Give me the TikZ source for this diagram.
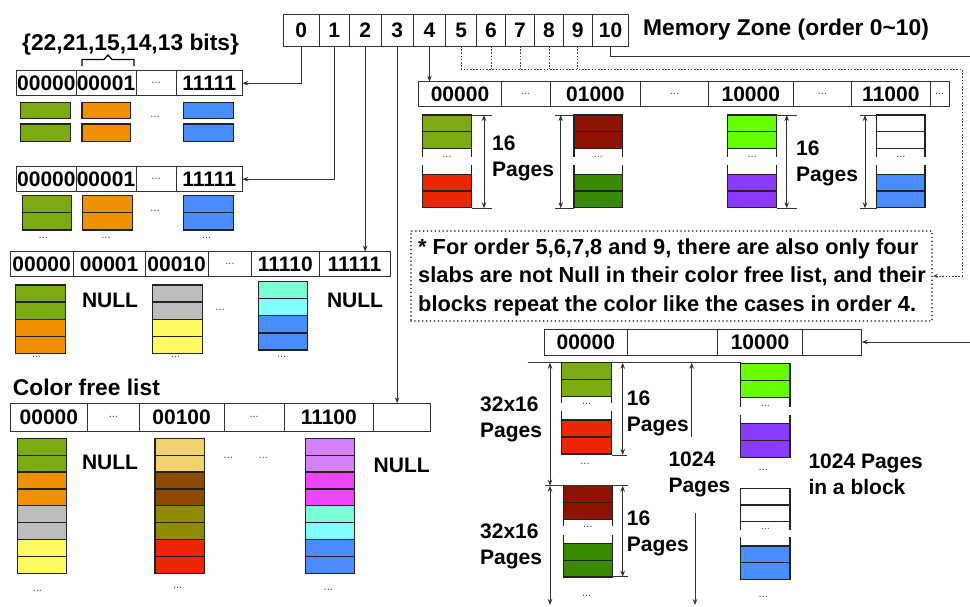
\documentclass[tikz,border=0pt]{standalone}
\usepackage{fontspec}
\setmainfont{Liberation Sans}
\usetikzlibrary{arrows.meta}
\definecolor{cgreen}{HTML}{7BAA12}
\definecolor{corange}{HTML}{EE9000}
\definecolor{cblue}{HTML}{4A8DFF}
\definecolor{cgray}{HTML}{BDBDBD}
\definecolor{cyellow}{HTML}{FCFC62}
\definecolor{caqua}{HTML}{7CFFD6}
\definecolor{ccyan}{HTML}{80FFFF}
\definecolor{cred}{HTML}{EA2700}
\definecolor{cdred}{HTML}{8C1400}
\definecolor{cdgreen}{HTML}{3A8A00}
\definecolor{clime}{HTML}{66FF00}
\definecolor{cpurple}{HTML}{8B3BFF}
\definecolor{cgold}{HTML}{F2D26C}
\definecolor{cbrown}{HTML}{8E4B00}
\definecolor{colive}{HTML}{8E8C00}
\definecolor{cviolet}{HTML}{D580FF}
\definecolor{cmag}{HTML}{EE44FF}
\definecolor{linec}{HTML}{333333}
\definecolor{pagec}{HTML}{222222}
\definecolor{dotc}{HTML}{444444}
\definecolor{dotlc}{HTML}{444444}
\definecolor{dotbrown}{HTML}{8B3A1A}
\newcommand\bigf{\fontsize{22.8}{28}\selectfont\bfseries}
\newcommand\labf{\fontsize{21}{26}\selectfont\bfseries}
\newcommand\notef{\fontsize{21.8}{28.5}\selectfont\bfseries}
\newcommand\smf{\fontsize{11}{11}\selectfont\mdseries}
\newcommand\eld{{\smf\color{dotc}...}}
\newcounter{dn}
\tikzset{
 cellbox/.style={draw=linec, line width=0.9pt, inner sep=0pt, outer sep=0pt, font=\labf},
 pagebox/.style={draw=pagec, line width=1.2pt},
 conn/.style={draw=linec, line width=0.9pt},
 arr/.style={conn, -{Stealth[length=6pt,width=4.5pt]}},
 darr/.style={conn, {Stealth[length=6pt,width=4.5pt]}-{Stealth[length=6pt,width=4.5pt]}},
 dotl/.style={draw=dotlc, line width=0.9pt, dash pattern=on 1.6pt off 1.6pt},
 notebox/.style={draw=dotlc, line width=1.7pt, dash pattern=on 0.1pt off 3.8pt, line cap=round, inner sep=0pt},
 hdr/.style={font=\bigf, inner sep=0pt},
 lab/.style={font=\labf, inner sep=0pt},
 dotsn/.style={font=\smf, text=dotc, inner sep=0pt},
 brc/.style={draw=black, line width=1.4pt}
}
\newcommand\cel[6]{\node[cellbox, minimum width={(#3-#2)*1pt}, minimum height={(#5-#4)*1pt}] (#1) at ({(#2+#3)/2},{(#4+#5)/2}) {#6};}
\newcommand\stk[5]{\foreach \cc [count=\ii from 0] in {#5} {\draw[pagebox, fill=\cc] (#1,{#3+\ii*#4}) rectangle (#2,{#3+(\ii+1)*#4});}}
\newcommand\dts[2]{\stepcounter{dn}\node[dotsn] (dt\arabic{dn}) at ({#1},{#2}) {...};}
\newcommand\gstk[9]{%
 \pgfmathsetmacro\ya{#3+2*#4}%
 \pgfmathsetmacro\yb{\ya+#5}%
 \pgfmathsetmacro\yc{\yb+#6}%
 \pgfmathsetmacro\yd{\yc+#7}%
 \draw[pagebox, fill=#8] (#1,#3) rectangle (#2,{#3+#4});
 \draw[pagebox, fill=#8] (#1,{#3+#4}) rectangle (#2,\ya);
 \draw[pagebox] (#1,\ya) -- (#1,\yb) (#2,\ya) -- (#2,\yb) (#1,\yc) -- (#1,\yd) (#2,\yc) -- (#2,\yd);
 \draw[pagebox, fill=#9] (#1,\yd) rectangle (#2,{\yd+#4});
 \draw[pagebox, fill=#9] (#1,{\yd+#4}) rectangle (#2,{\yd+2*#4});
 \dts{(#1+#2)/2}{(\ya+\yc)/2}%
}
\begin{document}
\begin{tikzpicture}[x=1pt,y=-1pt]
\useasboundingbox (0,0) rectangle (970,606);
\clip (0,0) rectangle (970,606);

% ---------- memory zone ----------
\foreach \a/\b/\t [count=\ii from 0] in {283.3/319.3/0,319.3/349.3/1,349.3/381/2,381/413.3/3,413.3/445.7/4,445.7/476.7/5,476.7/505.3/6,505.3/534.7/7,534.7/563.3/8,563.3/592.3/9,592.3/628.7/10}
 {\cel{m\ii}{\a}{\b}{14}{46}{\t}}
\node[hdr, anchor=west] (mzt) at (643,30) {Memory Zone (order 0\textasciitilde 10)};

% ---------- order 0 ----------
\node[hdr, anchor=west] (bits) at (22,45) {\{22,21,15,14,13 bits\}};
\draw[brc] (82,66) -- (82,59.5) -- (104,59.5) -- (108,55) -- (112,59.5) -- (134,59.5) -- (134,66);
\cel{t0a}{16.7}{76}{70.7}{95.7}{00000}
\cel{t0b}{76}{136}{70.7}{95.7}{00001}
\cel{t0c}{136}{176}{70.7}{95.7}{\eld}
\cel{t0d}{176}{242.3}{70.7}{95.7}{11111}
\draw[pagebox, fill=cgreen] (20.7,102.7) rectangle (70.7,118.3);
\draw[pagebox, fill=corange] (82,102.7) rectangle (130.7,118.3);
\draw[pagebox, fill=cblue] (183.3,102.7) rectangle (233.3,118.3);
\draw[pagebox, fill=cgreen] (20.7,124) rectangle (70.7,141.7);
\draw[pagebox, fill=corange] (82,124) rectangle (130.7,141.7);
\draw[pagebox, fill=cblue] (183.3,124) rectangle (233.3,141.7);
\dts{155}{117}

% ---------- order 1 ----------
\cel{t1a}{16.7}{76}{166.7}{191.7}{00000}
\cel{t1b}{76}{136}{166.7}{191.7}{00001}
\cel{t1c}{136}{176}{166.7}{191.7}{\eld}
\cel{t1d}{176}{242.3}{166.7}{191.7}{11111}
\stk{22.3}{71.7}{195.3}{17.35}{cgreen,cgreen}
\stk{82.7}{132.7}{195.3}{17.35}{corange,corange}
\stk{183.3}{233.3}{195.3}{17.35}{cblue,cblue}
\dts{155}{210.7}\dts{43.3}{238.3}\dts{106}{238.3}\dts{206.7}{238.3}

% ---------- order 2 ----------
\cel{t2a}{10}{73.3}{251.7}{276.7}{00000}
\cel{t2b}{73.3}{145}{251.7}{276.7}{00001}
\cel{t2c}{145}{208.3}{251.7}{276.7}{00010}
\cel{t2d}{208.3}{251.7}{251.7}{276.7}{\eld}
\cel{t2e}{251.7}{319}{251.7}{276.7}{11110}
\cel{t2f}{319}{390}{251.7}{276.7}{11111}
\stk{15.7}{65.7}{285}{17.08}{cgreen,cgreen,corange,corange}
\stk{152.3}{202.3}{285}{17.08}{cgray,cgray,cyellow,cyellow}
\stk{258.3}{307.3}{281.7}{17.08}{caqua,ccyan,cblue,cblue}
\node[lab] (null1) at (110,300) {NULL};
\node[lab] (null2) at (355,300) {NULL};
\dts{220}{310}\dts{36.7}{357}\dts{175.7}{357}\dts{281.7}{356.7}

% ---------- order 3 ----------
\node[hdr, anchor=west] (cfl) at (12.7,387.3) {Color free list};
\cel{t3a}{10}{87.7}{403.3}{431}{00000}
\cel{t3b}{87.7}{139.3}{403.3}{431}{\eld}
\cel{t3c}{139.3}{224}{403.3}{431}{00100}
\cel{t3d}{224}{284.3}{403.3}{431}{\eld}
\cel{t3e}{284.3}{373.3}{403.3}{431}{11100}
\cel{t3f}{373.3}{430}{403.3}{431}{}
\stk{17.7}{66.7}{438.3}{16.875}{cgreen,cgreen,corange,corange,cgray,cgray,cyellow,cyellow}
\stk{155}{204.3}{438.3}{16.875}{cgold,cgold,cbrown,cbrown,colive,colive,cred,cred}
\stk{305.7}{354.3}{438.3}{16.875}{cviolet,cviolet,cmag,cmag,caqua,ccyan,cblue,cblue}
\node[lab] (null3) at (110,462.3) {NULL};
\node[lab] (null4) at (401.7,465.7) {NULL};
\dts{228.3}{458.3}
\node[dotsn, text=dotbrown] (dtb) at (263.3,458.3) {...};
\dts{37.3}{591}\dts{177.7}{588.3}\dts{328.3}{590}

% ---------- order 4 ----------
\cel{t4a}{418.3}{501.7}{81.7}{106.7}{00000}
\cel{t4b}{501.7}{550}{81.7}{106.7}{\eld}
\cel{t4c}{550}{640.7}{81.7}{106.7}{01000}
\cel{t4d}{640.7}{708.3}{81.7}{106.7}{\eld}
\cel{t4e}{708.3}{793.3}{81.7}{106.7}{10000}
\cel{t4f}{793.3}{851.7}{81.7}{106.7}{\eld}
\cel{t4g}{851.7}{930}{81.7}{106.7}{11000}
\cel{t4h}{930}{949.3}{81.7}{106.7}{\eld}
\gstk{422.3}{471.7}{115}{16.67}{9}{7.7}{9.3}{cgreen}{cred}
\gstk{574}{622.7}{115}{16.67}{9}{7.7}{9.3}{cdred}{cdgreen}
\gstk{727.7}{776.7}{115}{16.67}{9}{7.7}{9.3}{clime}{cpurple}
\gstk{876.7}{925}{115}{16.67}{9}{7.7}{9.3}{white}{cblue}
\draw[conn] (471.7,115) -- (491.7,115) (471.7,208.3) -- (491.7,208.3);
\draw[darr] (484,115) -- (484,208.3);
\draw[conn] (555,115) -- (574,115) (555,208.3) -- (574,208.3);
\draw[darr] (560.7,115) -- (560.7,208.3);
\draw[conn] (776.7,115) -- (796.7,115) (776.7,208.3) -- (796.7,208.3);
\draw[darr] (786.7,115) -- (786.7,208.3);
\draw[conn] (860,115) -- (876.7,115) (860,208.3) -- (876.7,208.3);
\draw[darr] (865,115) -- (865,208.3);
\node[lab, anchor=west, align=left] (p4a) at (492,158) {16\\Pages};
\node[lab, anchor=west, align=left] (p4c) at (796,163.5) {16\\Pages};

% ---------- note ----------
\node[notebox, minimum width=521pt, minimum height=90pt] (note) at (671.5,276) {};
\node[anchor=west, inner sep=0pt, align=left, font=\notef] (notetxt) at (418,277) {* For order 5,6,7,8 and 9, there are also only four\\slabs are not Null in their color free list, and their\\blocks repeat the color like the cases in order 4.};

% ---------- order 10 ----------
\cel{tAa}{544.3}{627.3}{329}{355}{00000}
\cel{tAb}{627.3}{717.7}{329}{355}{}
\cel{tAc}{717.7}{802.3}{329}{355}{10000}
\cel{tAd}{802.3}{861.7}{329}{355}{}
\draw[conn] (527.7,362.7) -- (740.7,362.7);
\gstk{561.7}{611.7}{362.7}{17}{6.6}{7.7}{9}{cgreen}{cred}
\gstk{563.3}{612.3}{485.7}{16.8}{6.7}{9}{8.3}{cdred}{cdgreen}
\gstk{740.7}{790}{363.3}{17}{9.4}{8.3}{8.3}{clime}{cpurple}
\gstk{740.7}{790}{488.3}{16.7}{8.3}{6.7}{9.3}{white}{cblue}
\dts{585}{464}\dts{586.7}{596}\dts{763.3}{470}\dts{763.3}{596.7}
\draw[darr] (550,362.7) -- (550,485.7);
\draw[conn] (545,485.7) -- (628.3,485.7);
\draw[darr] (550,485.7) -- (550,605);
\draw[darr] (622.7,362.7) -- (622.7,455);
\draw[conn] (611.7,455) -- (626.7,455);
\draw[darr] (622.7,485.7) -- (622.7,576.7);
\draw[conn] (612.3,576.7) -- (628,576.7);
\draw[arr] (691.7,436.7) -- (691.7,362.7);
\draw[arr] (695,513.3) -- (695,605);
\node[lab, anchor=west, align=left] (p32a) at (480,419) {32x16\\Pages};
\node[lab, anchor=west, align=left] (p32b) at (480,546.5) {32x16\\Pages};
\node[lab, anchor=west, align=left] (p16a) at (626.7,413) {16\\Pages};
\node[lab, anchor=west, align=left] (p16b) at (626.7,533) {16\\Pages};
\node[lab, anchor=west, align=left] (p1024) at (668.3,474) {1024\\Pages};
\node[lab, anchor=west, align=left] (pblk) at (808.3,474.5) {1024 Pages\\in a block};

% ---------- connectors ----------
\draw[arr] (m0.south) |- (t0d.east);
\draw[arr] (m1.south) |- (t1d.east);
\draw[arr] (m2.south) -- (m2.south |- t2f.north);
\draw[arr] (m3.south) -- (m3.south |- t3f.north);
\draw[arr] (m4.south) -- (m4.south |- t4a.north);
\coordinate (dj) at (962,69.3);
\draw[dotl, -{Stealth[length=5pt,width=4pt]}] (m5.south) |- (dj) |- (note.east);
\foreach \k in {6,...,9} {\draw[dotl] (m\k.south) -- (m\k.south |- dj);}
\coordinate (rt) at (980,56.7);
\draw[arr] (m10.south) |- (rt) |- (tAd.east);
\end{tikzpicture}
\end{document}
